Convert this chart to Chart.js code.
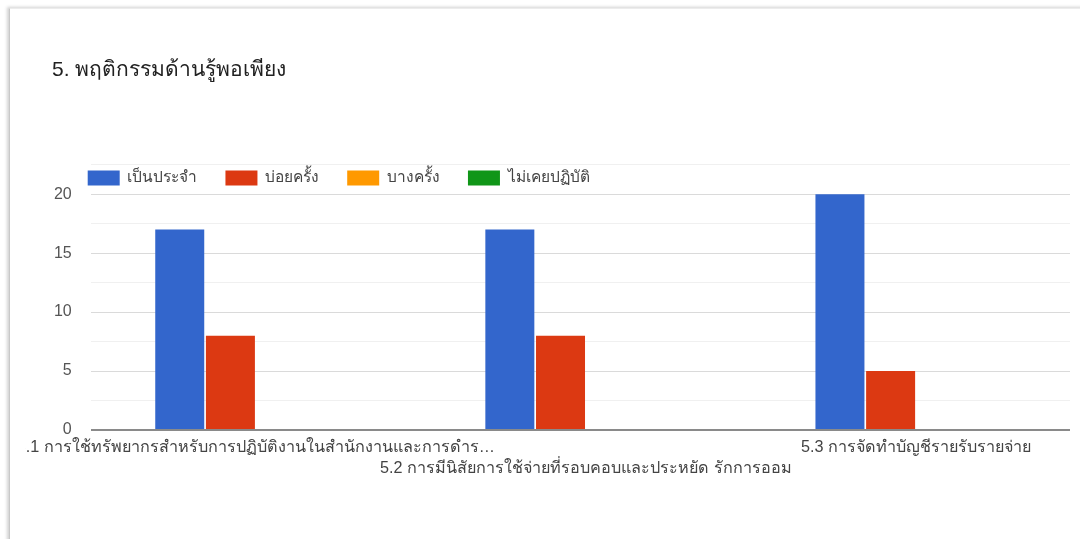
<!DOCTYPE html>
<html>
<head>
<meta charset="utf-8">
<script src="https://cdn.jsdelivr.net/npm/chart.js@4/dist/chart.umd.min.js"></script>
<style>
  html, body { margin: 0; padding: 0; background: #ffffff; width: 1080px; height: 539px; overflow: hidden; }
  #card { position: absolute; left: 9px; top: 8px; width: 1100px; height: 560px; background: #fff;
          border-left: 1px solid #c8c8c8; border-top: 1px solid #ececec;
          box-shadow: -2px -1px 3px rgba(0,0,0,0.18); }
  #clip { position: absolute; left: 25px; top: 0; width: 1045px; height: 539px; overflow: hidden; }
  #wrap { position: absolute; left: -25px; top: 0; width: 1081px; height: 539px; }
</style>
</head>
<body>
<div id="card"></div>
<div id="clip"><div id="wrap"><canvas id="c"></canvas></div></div>
<script>
const chartTitle = "5. พฤติกรรมด้านรู้พอเพียง";
const categories = [
  "5.1 การใช้ทรัพยากรสำหรับการปฏิบัติงานในสำนักงานและการดำร…",
  "5.2 การมีนิสัยการใช้จ่ายที่รอบคอบและประหยัด รักการออม",
  "5.3 การจัดทำบัญชีรายรับรายจ่าย"
];
const seriesNames = ["เป็นประจำ", "บ่อยครั้ง", "บางครั้ง", "ไม่เคยปฏิบัติ"];
const regularly = [17, 17, 20];
const often = [8, 8, 5];
const sometimes = [0, 0, 0];
const never = [0, 0, 0];
const seriesColors = ["#3366cc", "#dc3912", "#ff9900", "#109618"];
const yMax = 22.5;
const yStep = 2.5;

const FONT = '"Liberation Sans", Arial, sans-serif';

const legendShift = {
  id: 'legendShift',
  afterLayout(chart) {
    const lg = chart.legend;
    if (!lg) return;
    const pad = lg.options.labels.padding;
    const itemH = Math.max(lg.options.labels.font.size, lg.options.labels.boxHeight);
    const newTop = 178 - pad - itemH / 2;
    const dy = newTop - lg.top;
    lg.top += dy; lg.bottom += dy;
    const newLeft = chart.chartArea.left - 3 - pad;
    const w = lg.right - lg.left;
    lg.left = newLeft; lg.right = newLeft + w;
  }
};

const allValues = [regularly, often, sometimes, never];
new Chart(document.getElementById('c'), {
  type: 'bar',
  data: {
    labels: categories,
    datasets: seriesNames.map((n, i) => ({
      label: n,
      data: allValues[i],
      backgroundColor: seriesColors[i],
      borderWidth: 0,
      categoryPercentage: 0.614,
      barPercentage: 0.967
    }))
  },
  plugins: [legendShift],
  options: {
    responsive: true,
    maintainAspectRatio: false,
    animation: false,
    layout: { padding: { left: 52, right: 0, top: 0, bottom: 60.5 } },
    plugins: {
      tooltip: { enabled: false },
      title: {
        display: true,
        text: chartTitle,
        align: 'start',
        color: '#212121',
        font: { family: FONT, size: 21, weight: 'normal', lineHeight: 1.2 },
        padding: { top: 57.4, bottom: 28.6 }
      },
      legend: {
        position: 'top',
        align: 'start',
        labels: {
          boxWidth: 32,
          boxHeight: 15,
          padding: 28,
          color: '#444444',
          font: { family: FONT, size: 15.5 }
        }
      }
    },
    scales: {
      x: {
        grid: { display: false, drawTicks: false },
        border: { display: false },
        ticks: {
          autoSkip: false,
          maxRotation: 0,
          minRotation: 0,
          padding: 7,
          color: '#444444',
          font: { family: FONT, size: 16.2, lineHeight: 1.3 },
          callback: function(v, i) {
            const t = this.getLabelForValue(v);
            return i % 2 === 1 ? ['', t] : t;
          }
        },
        afterFit: (s) => { s.height = 48.5; s.paddingLeft = 0; s.paddingRight = 0; }
      },
      y: {
        min: 0,
        max: yMax,
        border: { display: false },
        grid: {
          drawTicks: false,
          color: (ctx) => {
            const v = ctx.tick.value;
            if (v === 0) return '#8a8a8a';
            return (v % 5 === 0) ? '#dadada' : '#f0f0f0';
          },
          lineWidth: (ctx) => ctx.tick.value === 0 ? 2 : 1
        },
        ticks: {
          stepSize: yStep,
          padding: 19,
          color: '#555555',
          font: { family: FONT, size: 16 },
          callback: (v) => (v % 5 === 0 ? String(v) : '')
        },
        afterFit: (s) => { s.width = 38.7; }
      }
    }
  }
});
</script>
</body>
</html>
